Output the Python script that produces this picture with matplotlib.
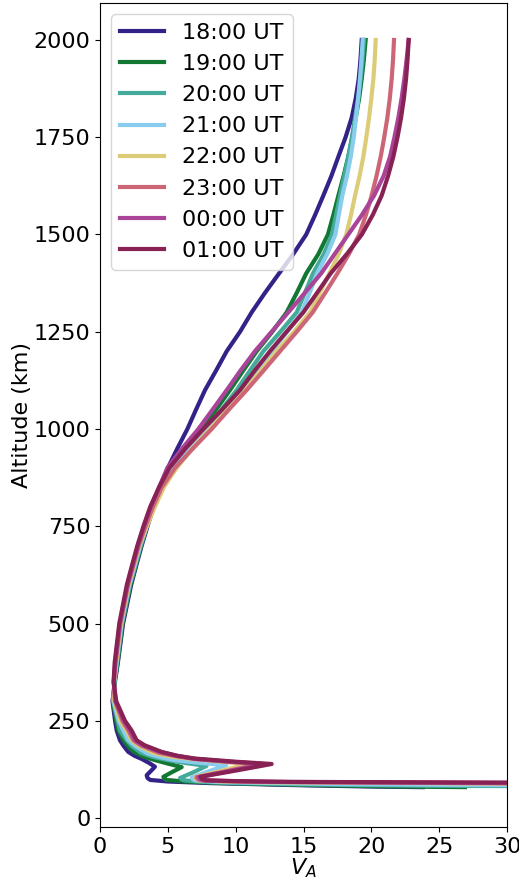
import numpy as np
import matplotlib
matplotlib.use("Agg")
from matplotlib import pyplot as plt

# hours shown in the legend
labels = ['18:00 UT', '19:00 UT', '20:00 UT', '21:00 UT',
          '22:00 UT', '23:00 UT', '00:00 UT', '01:00 UT']
colors = ['#332288', '#117733', '#44AA99', '#88CCEE',
          '#DDCC77', '#CC6677', '#AA4499', '#882255']

# altitude grid (km) for the upper part of every profile
alt_upper = [2000, 1950, 1900, 1850, 1800, 1750, 1700, 1650, 1600, 1550, 1500,
             1450, 1400, 1350, 1300, 1250, 1200, 1150, 1100, 1050, 1000,
             950, 900, 850, 800, 750, 700, 650, 600, 500, 400, 350, 300,
             250, 225, 200]

va_1800 = [19.29, 19.2, 19.07, 18.85, 18.55, 18.1, 17.57, 17.05, 16.46, 15.85, 15.2,
           14.25, 13.2, 12.16, 11.18, 10.32, 9.34, 8.55, 7.74, 7.08, 6.44,
           5.7, 5.0, 4.45, 3.95, 3.5, 3.07, 2.68, 2.3, 1.7, 1.32, 1.1, 0.92,
           1.11, 1.23, 1.47]
va_1900 = [19.58, 19.45, 19.29, 19.1, 18.85, 18.6, 18.3, 17.95, 17.57, 17.2, 16.8,
           16.1, 15.2, 14.5, 13.76, 12.7, 11.55, 10.55, 9.58, 8.55, 7.49,
           6.3, 5.15, 4.45, 3.9, 3.45, 3.03, 2.64, 2.25, 1.66, 1.29, 1.08, 0.95,
           1.2, 1.35, 1.72]
va_2000 = [19.46, 19.35, 19.21, 19.03, 18.8, 18.57, 18.3, 18.0, 17.69, 17.4, 17.1,
           16.5, 15.7, 15.1, 14.5, 13.3, 12.04, 11.05, 10.07, 8.95, 7.74,
           6.5, 5.28, 4.5, 3.95, 3.45, 3.0, 2.61, 2.21, 1.62, 1.26, 1.06, 0.98,
           1.3, 1.47, 1.96]
va_2100 = [19.36, 19.27, 19.16, 19.03, 18.87, 18.7, 18.48, 18.2, 17.86, 17.6, 17.35,
           16.75, 16.0, 15.45, 14.86, 13.8, 12.65, 11.6, 10.57, 9.3, 7.91,
           6.6, 5.41, 4.55, 3.95, 3.43, 2.95, 2.56, 2.16, 1.58, 1.22, 1.04, 1.0,
           1.38, 1.72, 2.09]
va_2200 = [20.32, 20.25, 20.15, 20.0, 19.83, 19.63, 19.41, 19.13, 18.8, 18.5, 18.15,
           17.6, 16.9, 16.2, 15.48, 14.3, 13.02, 11.85, 10.69, 9.4, 8.11,
           6.8, 5.65, 4.7, 4.05, 3.45, 2.9, 2.51, 2.12, 1.54, 1.19, 1.03, 1.05,
           1.5, 1.96, 2.33]
va_2300 = [21.67, 21.6, 21.5, 21.36, 21.18, 20.95, 20.69, 20.38, 20.02, 19.6, 19.1,
           18.35, 17.5, 16.6, 15.68, 14.5, 13.27, 12.05, 10.81, 9.5, 8.23,
           6.85, 5.53, 4.55, 3.9, 3.35, 2.85, 2.46, 2.07, 1.5, 1.15, 1.02, 1.1,
           1.65, 2.09, 2.46]
va_0000 = [22.75, 22.6, 22.43, 22.23, 21.99, 21.7, 21.38, 20.9, 20.2, 19.3, 18.3,
           17.3, 16.3, 15.1, 13.88, 12.65, 11.42, 10.35, 9.34, 8.3, 7.25,
           6.05, 4.96, 4.35, 3.75, 3.25, 2.8, 2.41, 2.03, 1.46, 1.12, 1.01, 1.15,
           1.75, 2.21, 2.58]
va_0100 = [22.75, 22.67, 22.56, 22.4, 22.19, 21.93, 21.62, 21.23, 20.76, 20.1, 19.3,
           18.2, 17.0, 16.0, 14.99, 13.75, 12.53, 11.4, 10.32, 9.0, 7.62,
           6.3, 5.11, 4.35, 3.7, 3.2, 2.75, 2.36, 1.98, 1.42, 1.08, 1.0, 1.2,
           1.84, 2.33, 2.7]

# E-region bump and bottom of each profile (V_A, altitude)
tail_1800 = [(1.75, 185), (2.09, 170), (2.55, 160), (3.07, 152), (3.6, 142), (4.05, 132),
             (3.75, 121), (3.44, 110), (3.5, 103), (3.7, 98), (5, 94), (8, 90),
             (14, 85), (20, 81), (23.8, 79.5)]
tail_1900 = [(2.05, 185), (2.5, 170), (3.2, 158), (4.05, 149), (5.0, 140), (6.02, 131),
             (5.3, 118), (4.67, 106), (4.75, 101), (4.9, 98), (6.2, 94), (9, 90),
             (15, 85), (22, 81), (26.9, 79.5)]
tail_2000 = [(2.35, 185), (3.0, 168), (3.9, 157), (5.0, 149), (6.4, 141), (7.85, 134),
             (6.9, 118), (5.9, 103), (6.0, 100), (6.2, 97), (7.5, 93), (10, 90),
             (16, 86), (24, 83), (32, 82)]
tail_2100 = [(2.6, 185), (3.5, 166), (4.5, 156), (5.5, 149), (7.3, 142), (9.3, 136),
             (8.0, 120), (6.76, 104), (6.85, 100), (7.0, 97), (8.5, 93), (11, 91),
             (18, 87), (32, 84)]
tail_2200 = [(2.8, 187), (3.9, 168), (5.2, 158), (7.0, 151), (8.9, 145), (10.9, 139),
             (9.0, 122), (7.0, 105), (7.1, 100), (7.3, 97), (9, 94), (12, 92), (32, 88)]
tail_2300 = [(3.0, 187), (4.3, 168), (5.6, 159), (7.0, 152), (9.3, 145), (11.8, 139),
             (9.5, 122), (7.1, 105), (7.2, 100), (7.4, 97), (9, 95), (12, 93), (32, 89)]
tail_0000 = [(3.15, 187), (4.45, 170), (5.7, 160), (7.0, 152), (9.5, 145), (12.2, 139),
             (9.7, 122), (7.25, 105), (7.35, 100), (7.6, 97), (9.5, 95), (13, 93), (32, 90)]
tail_0100 = [(3.3, 187), (4.55, 170), (5.7, 160), (7.0, 153), (9.95, 145), (12.65, 139),
             (10.0, 122), (7.4, 106), (7.5, 101), (7.8, 97), (10, 95), (14, 93), (32, 91)]

uppers = [va_1800, va_1900, va_2000, va_2100, va_2200, va_2300, va_0000, va_0100]
tails = [tail_1800, tail_1900, tail_2000, tail_2100, tail_2200, tail_2300, tail_0000, tail_0100]

fig = plt.figure(figsize=(5.19, 8.8), dpi=100)
ax = fig.add_axes([0.1927, 0.0602, 0.7842, 0.9364])

for va, tail, lab, col in zip(uppers, tails, labels, colors):
    v = list(va) + [p[0] for p in tail]
    h = list(alt_upper) + [p[1] for p in tail]
    ax.plot(v, h, color=col, lw=3, label=lab, solid_joinstyle='round')

ax.set_xlim(0, 30)
ax.set_ylim(-23, 2095)
ax.set_xticks([0, 5, 10, 15, 20, 25, 30])
ax.set_yticks(np.arange(0, 2001, 250))
ax.tick_params(labelsize=16)
ax.set_xlabel('$V_A$', fontsize=16, labelpad=0)
ax.set_ylabel('Altitude (km)', fontsize=16, labelpad=1)
ax.legend(loc='upper left', fontsize=16)

fig.savefig('out.png', dpi=100)
